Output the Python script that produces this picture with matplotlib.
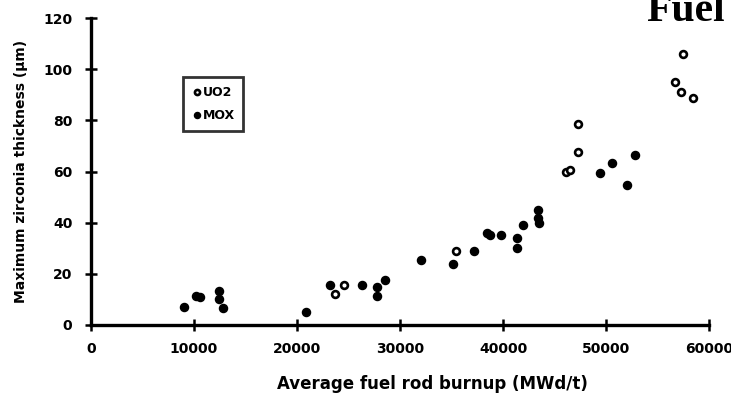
import numpy as np
import matplotlib
matplotlib.use("Agg")
import matplotlib.pyplot as plt

plt.rcParams['font.family'] = ['DejaVu Sans']

# UO2 rods (open circles)
uo2_x = [23700, 24600, 35400, 46100, 46500, 47300, 47300, 56700, 57300, 57500, 58400]
uo2_y = [12, 15.6, 28.8, 60, 60.7, 67.7, 78.6, 95, 91, 105.8, 88.7]

# MOX rods (filled)
mox_x = [9000, 10200, 10600, 12400, 12400, 12800, 20900, 23200, 26300, 27800, 27800,
         28500, 32000, 35100, 37200, 38400, 38700, 39800, 41400, 41400, 41900,
         43400, 43400, 43500, 49400, 50600, 52000, 52800]
mox_y = [7, 11.5, 11, 13.2, 10, 6.6, 5, 15.6, 15.6, 14.8, 11.3,
         17.5, 25.3, 24, 28.8, 35.8, 35, 35, 34.2, 30, 39,
         45, 42, 39.7, 59.5, 63.4, 54.9, 66.5]

xticks = [0, 10000, 20000, 30000, 40000, 50000, 60000]
yticks = [0, 20, 40, 60, 80, 100, 120]

fig = plt.figure(figsize=(7.31, 3.96), dpi=100)
ax = fig.add_axes([91/731, 1-325/396, 618/731, 307/396])

ax.scatter(uo2_x, uo2_y, s=24, facecolors='white', edgecolors='black', linewidths=1.9,
           label='UO2', zorder=3)
ax.scatter(mox_x, mox_y, s=34, color='black', label='MOX', zorder=3)

ax.set_xlim(0, 60000)
ax.set_ylim(0, 120)
ax.set_xticks(xticks)
ax.set_yticks(yticks)
ax.set_xticklabels([str(t) for t in xticks], fontweight='bold', fontsize=10)
ax.set_yticklabels([str(t) for t in yticks], fontweight='bold', fontsize=10)
ax.tick_params(direction='inout', length=9, width=1.8)
ax.tick_params(axis='y', pad=9)
ax.tick_params(axis='x', pad=8)

for s in ['top', 'right']:
    ax.spines[s].set_visible(False)
for s in ['left', 'bottom']:
    ax.spines[s].set_linewidth(2.4)

ax.set_xlabel("Average fuel rod burnup (MWd/t)", fontweight='bold', fontsize=12)
ax.xaxis.set_label_coords((432-91)/618, -(375-325)/307)
ax.set_ylabel("Maximum zirconia thickness (µm)", fontweight='bold', fontsize=10)
ax.yaxis.set_label_coords(-(91-28)/618, 0.5)

leg = ax.legend(loc='upper left', bbox_to_anchor=((183-91)/618, (325-77)/307), fancybox=False,
                frameon=True, edgecolor='black', prop={'weight': 'bold', 'size': 9},
                handletextpad=0.05, handlelength=0.8, borderpad=0.7, labelspacing=0.8,
                markerscale=0.75, borderaxespad=0)
leg.get_frame().set_linewidth(2)

fig.text(646/731, 1-21/396, "Fuel", family='Liberation Serif', fontweight='bold',
         fontsize=30, ha='left', va='baseline')

fig.savefig("out.png", dpi=100)
